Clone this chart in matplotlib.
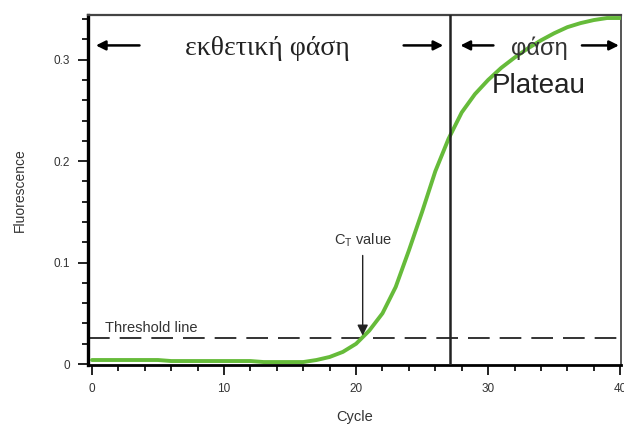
import numpy as np
import matplotlib
matplotlib.use("Agg")
import matplotlib.pyplot as plt
from matplotlib.ticker import MultipleLocator

# amplification curve: fluorescence per PCR cycle
cycles = list(range(0, 41))
fluorescence = [0.004, 0.004, 0.004, 0.004, 0.004, 0.004, 0.003, 0.003, 0.003, 0.003,
                0.003, 0.003, 0.003, 0.002, 0.002, 0.002, 0.002, 0.004, 0.007, 0.012,
                0.020, 0.033, 0.050, 0.076, 0.112, 0.150, 0.190, 0.222, 0.248, 0.266,
                0.280, 0.292, 0.302, 0.311, 0.319, 0.326, 0.332, 0.336, 0.339, 0.341,
                0.341]
threshold = 0.026
ct_value = 20.5
plateau_start = 27.1

x_ticks = [0, 10, 20, 30, 40]
y_ticks = [0, 0.1, 0.2, 0.3]
y_tick_labels = ["0", "0.1", "0.2", "0.3"]

sans = ["Liberation Sans", "DejaVu Sans"]
serif = ["Liberation Serif", "DejaVu Serif"]

fig = plt.figure(figsize=(6.24, 4.28), dpi=100)
ax = fig.add_axes([0.141, 0.147, 0.854, 0.818])

ax.plot(cycles, fluorescence, color="#66bb3a", lw=2.8, solid_capstyle="round",
        solid_joinstyle="round", zorder=3)
ax.axhline(threshold, color="#111111", lw=1.2, ls=(0, (13, 6)), zorder=2)
ax.axvline(plateau_start, color="#222222", lw=1.8, zorder=4)

ax.set_xlim(-0.3, 40.05)
ax.set_ylim(-0.001, 0.344)
ax.set_xticks(x_ticks)
ax.set_yticks(y_ticks)
ax.set_yticklabels(y_tick_labels)
ax.xaxis.set_minor_locator(MultipleLocator(2))
ax.yaxis.set_minor_locator(MultipleLocator(0.02))
ax.tick_params(which="major", direction="out", length=7, width=1.4, color="#222222",
               labelsize=8.5, labelcolor="#333333", pad=6)
ax.tick_params(which="minor", direction="out", length=4.5, width=1.4, color="#222222")
for lbl in ax.get_xticklabels() + ax.get_yticklabels():
    lbl.set_family(sans)

ax.spines["left"].set_linewidth(2.4)
ax.spines["bottom"].set_linewidth(2.0)
ax.spines["top"].set_linewidth(1.6)
ax.spines["top"].set_color("#444444")
ax.spines["right"].set_linewidth(1.4)
ax.spines["right"].set_color("#555555")

ax.set_xlabel("Cycle", fontsize=10.5, family=sans, color="#333333", labelpad=11)
ax.set_ylabel("Fluorescence", fontsize=10, family=sans, color="#333333", labelpad=19)

# phase labels and arrows
arrow = dict(arrowstyle="-|>", lw=1.8, color="black", mutation_scale=14, shrinkA=0, shrinkB=0)
ax.annotate("", xy=(0.3, 0.314), xytext=(3.6, 0.314), arrowprops=arrow)
ax.annotate("", xy=(26.6, 0.314), xytext=(23.6, 0.314), arrowprops=arrow)
ax.annotate("", xy=(27.9, 0.314), xytext=(30.4, 0.314), arrowprops=arrow)
ax.annotate("", xy=(39.9, 0.314), xytext=(37.1, 0.314), arrowprops=arrow)
ax.text(13.3, 0.311, "εκθετική φάση", ha="center", va="center", fontsize=20,
        family=serif, color="#222222")
ax.text(33.9, 0.311, "φάση", ha="center", va="center", fontsize=17,
        family=sans, color="#333333")
ax.text(33.8, 0.274, "Plateau", ha="center", va="center", fontsize=20,
        family=sans, color="#222222")

ax.text(1.0, threshold + 0.006, "Threshold line", ha="left", va="baseline", fontsize=10.5,
        family=sans, color="#333333")

ax.annotate("", xy=(ct_value, threshold + 0.002), xytext=(ct_value, 0.107),
            arrowprops=dict(arrowstyle="-|>", lw=1.0, color="#222222",
                            mutation_scale=16, shrinkA=0, shrinkB=0))
ax.text(ct_value, 0.122, r"C$_{\mathregular{T}}$ value", ha="center", va="center",
        fontsize=10.5, family=sans, color="#333333")

fig.savefig("out.png", dpi=100)
